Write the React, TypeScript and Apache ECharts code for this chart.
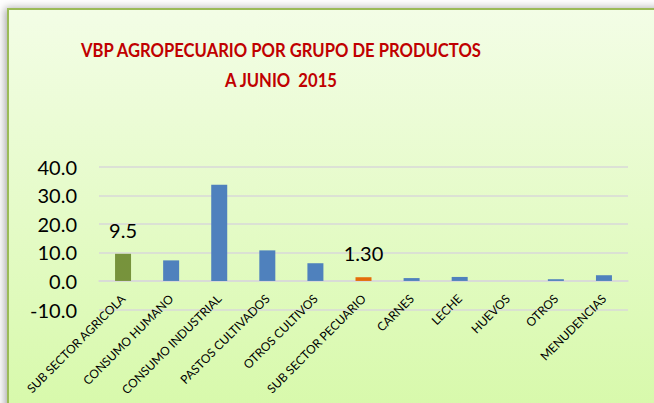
import React, { useEffect, useRef } from "react";
import * as echarts from "echarts";

const categories = [
  "SUB SECTOR AGRICOLA",
  "CONSUMO HUMANO",
  "CONSUMO INDUSTRIAL",
  "PASTOS CULTIVADOS",
  "OTROS CULTIVOS",
  "SUB SECTOR PECUARIO",
  "CARNES",
  "LECHE",
  "HUEVOS",
  "OTROS",
  "MENUDENCIAS",
];
const values = [9.5, 7.2, 33.7, 10.7, 6.2, 1.3, 1.0, 1.4, 0, 0.6, 2.0];
const groupKeys = ["agri", "sub", "sub", "sub", "sub", "pec", "sub", "sub", "sub", "sub", "sub"];
const shownLabels = ["9.5", "", "", "", "", "1.30", "", "", "", "", ""];
const titleLines = ["VBP AGROPECUARIO POR GRUPO DE PRODUCTOS", "A JUNIO  2015"];
const yMin = -10;
const yMax = 40;
const yStep = 10;

const palette: Record<string, string> = {
  agri: "#77933C",
  pec: "#E46C0A",
  sub: "#4F81BD",
};

export default function App() {
  const ref = useRef<HTMLDivElement>(null);
  useEffect(() => {
    if (!ref.current) return;
    const chart = echarts.init(ref.current, undefined, { renderer: "svg" });
    const font = "Lato, 'Open Sans', sans-serif";
    const titleText = (text: string, y: number) => ({
      type: "text",
      z: 10,
      x: 281,
      y,
      scaleX: 0.875,
      style: {
        text,
        fill: "#C00000",
        font: `bold 19px ${font}`,
        textAlign: "center",
        textVerticalAlign: "middle",
      },
    });
    chart.setOption({
      animation: false,
      backgroundColor: "#ffffff",
      graphic: [
        {
          type: "rect",
          z: -10,
          silent: true,
          shape: { x: 8, y: 9, width: 680, height: 420 },
          style: {
            fill: new echarts.graphic.LinearGradient(0, 0, 0, 1, [
              { offset: 0, color: "#F3FDE6" },
              { offset: 1, color: "#D6F9A8" },
            ]),
            stroke: "#9BBB59",
            lineWidth: 2,
            shadowBlur: 8,
            shadowOffsetX: -2,
            shadowColor: "rgba(0,0,0,0.35)",
          },
        },
        titleText(titleLines[0], 50),
        titleText(titleLines[1], 80),
      ],
      grid: {
        left: 99,
        right: 26,
        top: 166.7,
        bottom: 93.5,
        containLabel: false,
        outerBoundsMode: "none",
      },
      xAxis: {
        type: "category",
        data: categories,
        axisLine: { show: true, lineStyle: { color: "#D9D9D9", width: 1.5 } },
        axisTick: { show: false },
        axisLabel: {
          interval: 0,
          rotate: 45,
          margin: -13,
          color: "#000",
          fontSize: 12,
          fontFamily: font,
        },
      },
      yAxis: {
        type: "value",
        min: yMin,
        max: yMax,
        interval: yStep,
        axisLine: { show: false },
        axisTick: { show: false },
        splitLine: { lineStyle: { color: "#D9D9D9", width: 1.5 } },
        axisLabel: {
          formatter: (v: number) => v.toFixed(1),
          color: "#000",
          fontSize: 20,
          fontFamily: font,
          margin: 22,
        },
      },
      series: [
        {
          type: "bar",
          barWidth: 16,
          data: values.map((v, i) => ({
            value: v,
            itemStyle: { color: palette[groupKeys[i]] },
            label: {
              show: shownLabels[i] !== "",
              position: "top",
              distance: 14,
              formatter: () => shownLabels[i],
              color: "#000",
              fontSize: 20,
              fontFamily: font,
            },
          })),
        },
      ],
    });
    return () => chart.dispose();
  }, []);
  return (
    <div
      ref={ref}
      style={{ position: "fixed", left: 0, top: 0, width: 654, height: 403 }}
    />
  );
}
